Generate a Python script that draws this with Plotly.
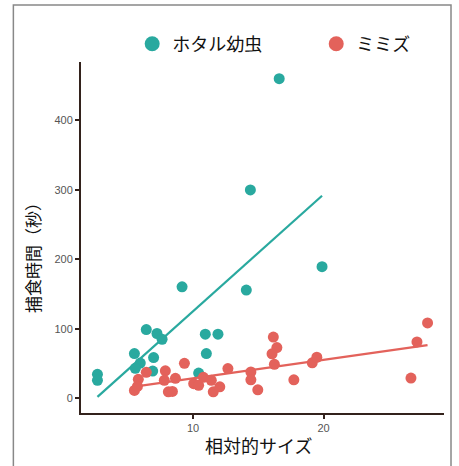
import numpy as np
import plotly.graph_objects as go

# ---- data ----
firefly_size = [2.68, 2.68, 6.42, 7.24, 7.63, 5.51, 6.98, 5.96, 5.58, 6.91,
                10.94, 11.91, 11.02, 10.43, 9.16, 14.39, 14.08, 16.6, 19.88]
firefly_time = [34.6, 26.0, 99.1, 93.4, 85.1, 64.5, 58.7, 50.9, 43.3, 39.4,
                92.4, 92.4, 64.5, 36.5, 160.6, 300.0, 155.8, 460.0, 189.5]

worm_size = [5.51, 5.81, 6.42, 5.74, 7.88, 7.80, 8.65, 8.11, 8.42, 9.34,
             10.05, 10.43, 10.79, 11.40, 11.55, 12.05, 12.67, 14.43, 14.43, 14.96,
             16.15, 16.42, 16.05, 16.23, 17.72, 19.13, 19.48, 26.69, 27.15, 27.96]
worm_time = [11.5, 27.4, 37.5, 17.3, 39.7, 26.0, 28.9, 9.4, 10.1, 50.5,
             21.2, 18.8, 30.3, 26.0, 9.4, 16.6, 42.9, 38.0, 26.7, 12.3,
             88.3, 73.2, 64.2, 49.1, 26.8, 51.2, 59.2, 29.2, 81.2, 108.6]

series_names = ["ホタル幼虫", "ミミズ"]
x_ticks = [10, 20]
y_ticks = [0, 100, 200, 300, 400]
x_title = "相対的サイズ"
y_title = "捕食時間（秒）"

TEAL = "#29a99f"
RED = "#e3625b"
FONT = "Noto Sans CJK JP, sans-serif"


def fit_line(xs, ys):
    xs = np.asarray(xs, float)
    ys = np.asarray(ys, float)
    b, a = np.polyfit(xs, ys, 1)
    lx = np.array([xs.min(), xs.max()])
    return lx, a + b * lx


fig = go.Figure()
series = [(firefly_size, firefly_time, TEAL, series_names[0], "legend"),
          (worm_size, worm_time, RED, series_names[1], "legend2")]
for xs, ys, col, name, leg in series:
    lx, ly = fit_line(xs, ys)
    fig.add_trace(go.Scatter(x=lx, y=ly, mode="lines",
                             line=dict(color=col, width=2.2),
                             showlegend=False, hoverinfo="skip"))
    fig.add_trace(go.Scatter(x=xs, y=ys, mode="markers",
                             marker=dict(color=col, size=11),
                             showlegend=False, name=name))
    # legend key
    fig.add_trace(go.Scatter(x=[None], y=[None], mode="markers",
                             marker=dict(color=col, size=15),
                             name=name, showlegend=True, legend=leg))

axis_common = dict(
    showgrid=False, zeroline=False, automargin=False,
    showline=True, linecolor="#33221c", linewidth=2,
    ticks="outside", ticklen=4, tickwidth=1.5, tickcolor="#33221c",
    tickfont=dict(family="Liberation Sans, Arial, sans-serif", size=11, color="#555555"),
)

legend_common = dict(orientation="h", yanchor="middle", y=1.0513, xanchor="left",
                     font=dict(family=FONT, size=18, color="#111111"),
                     bgcolor="rgba(0,0,0,0)")

fig.update_layout(
    width=459, height=466,
    margin=dict(l=81, r=15, t=62, b=53),
    paper_bgcolor="white", plot_bgcolor="white",
    font=dict(family=FONT),
    xaxis=dict(range=[1.42, 29.22], tickvals=x_ticks, **axis_common),
    yaxis=dict(range=[-21, 484], tickvals=y_ticks, **axis_common),
    legend=dict(x=0.141, **legend_common),
    legend2=dict(x=0.648, **legend_common),
    annotations=[
        dict(text=x_title, xref="paper", yref="paper", x=0.488, y=-0.092,
             xanchor="center", yanchor="middle", showarrow=False,
             font=dict(family=FONT, size=18, color="#111111")),
        dict(text=y_title, xref="paper", yref="paper", x=-0.133, y=0.455,
             xanchor="center", yanchor="middle", showarrow=False, textangle=-90,
             font=dict(family=FONT, size=17, color="#111111")),
    ],
    shapes=[dict(type="rect", xref="paper", yref="paper",
                 x0=-0.1863, x1=1.0193, y0=-0.17, y1=1.1625,
                 line=dict(color="#888888", width=1.5), layer="below")],
)

fig.write_html("out.html", config={"displayModeBar": False},
               post_script="document.body.style.margin='0';document.body.style.overflow='hidden';")
